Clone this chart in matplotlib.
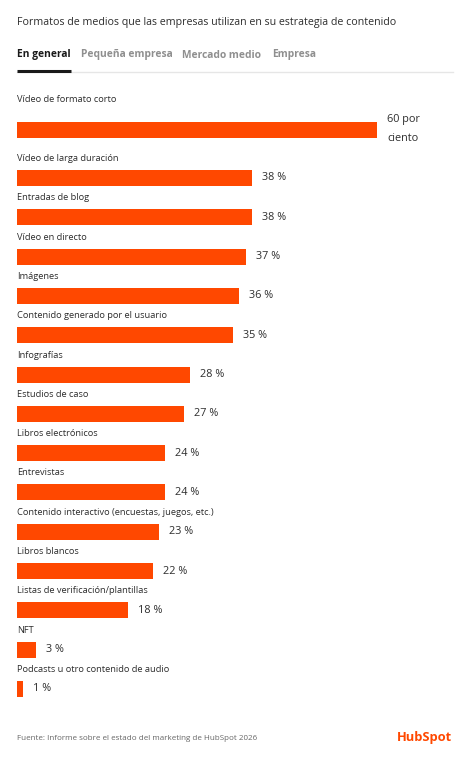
import matplotlib
matplotlib.use("Agg")
import matplotlib.pyplot as plt
import numpy as np

categories = [
    "Vídeo de formato corto",
    "Vídeo de larga duración",
    "Entradas de blog",
    "Vídeo en directo",
    "Imágenes",
    "Contenido generado por el usuario",
    "Infografías",
    "Estudios de caso",
    "Libros electrónicos",
    "Entrevistas",
    "Contenido interactivo (encuestas, juegos, etc.)",
    "Libros blancos",
    "Listas de verificación/plantillas",
    "NFT",
    "Podcasts u otro contenido de audio",
]
values = [60, 38, 38, 37, 36, 35, 28, 27, 24, 24, 23, 22, 18, 3, 1]
value_labels = ["60 por\nciento"] + [f"{v} %" for v in values[1:]]
tabs = ["En general", "Pequeña empresa", "Mercado medio", "Empresa"]
title = "Formatos de medios que las empresas utilizan en su estrategia de contenido"
source = "Fuente: Informe sobre el estado del marketing de HubSpot 2026"

W, H = 472, 766
FONT = "Open Sans"
ORANGE = "#FF4800"

fig = plt.figure(figsize=(W / 100, H / 100), dpi=100)
fig.patch.set_facecolor("white")

def px(x, y):
    return x / W, 1 - y / H

# title
fig.text(*px(17, 23), title, fontsize=7.7, family=FONT, color="#2d2d2d", va="center", ha="left")

# tabs
tab_x = [17, 81, 182, 272]
for i, (t, x) in enumerate(zip(tabs, tab_x)):
    fig.text(*px(x, 55), t, fontsize=7.35, family=FONT, weight="bold",
             color="#1a1a1a" if i == 0 else "#8f8f8f", va="center", ha="left")
fig.add_artist(plt.Line2D([17 / W, 453 / W], [1 - 72 / H] * 2, color="#e6e6e6", lw=1.0))
fig.add_artist(plt.Line2D([17 / W, 71 / W], [1 - 71.3 / H] * 2, color="#1a1a1a", lw=2.2, solid_capstyle="butt"))

# bars axis: x in percent, y in pixel rows
ax_left, ax_right = 17, 377
px_per_pct = 6.18
ax = fig.add_axes([ax_left / W, 0, (ax_right - ax_left) / W, 1])
ax.set_xlim(0, (ax_right - ax_left) / px_per_pct)
ax.set_ylim(H, 0)
ax.axis("off")

n = len(categories)
step = 39.3
centers = np.array([130.0] + [178.0 + step * (i - 1) for i in range(1, n)])

ax.barh(centers, values, height=16, color=ORANGE, left=0)
xmax = ax.get_xlim()[1]
gap = 10 / px_per_pct
for i, (c, v, lab, cat) in enumerate(zip(centers, values, value_labels, categories)):
    end = min(v, xmax)
    ax.text(end + gap, c - 1 if i == 0 else c, lab, fontsize=7.8, family=FONT, color="#2d2d2d",
            va="center", ha="left", clip_on=False, linespacing=2.1)
    ax.text(0, c - (30 if i == 0 else 19.5), cat, fontsize=6.7, family=FONT, color="#2d2d2d",
            va="center", ha="left", clip_on=False)

# footer
fig.text(*px(17, 738), source, fontsize=5.75, family=FONT, color="#666666", va="center", ha="left")
fig.text(*px(452, 738), "HubSpot", fontsize=9.3, family=FONT, weight="bold", color=ORANGE,
         va="center", ha="right")

fig.savefig("out.png", dpi=100, facecolor="white")
